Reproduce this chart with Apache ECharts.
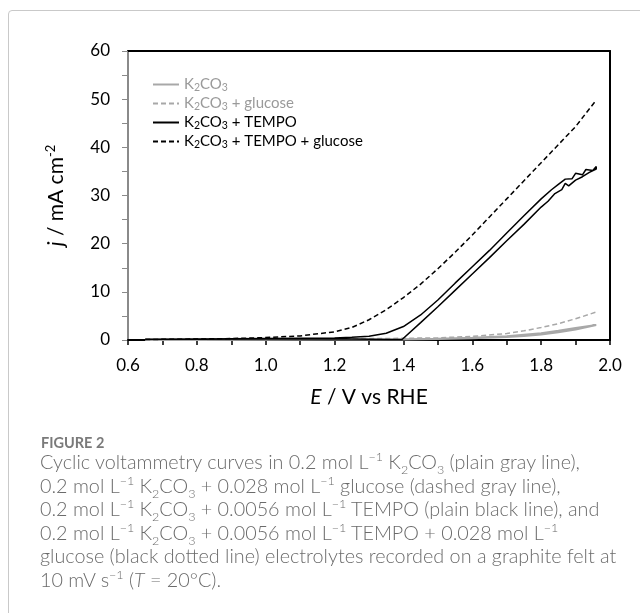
<!DOCTYPE html>
<html>
<head>
<meta charset="utf-8">
<script src="https://cdn.jsdelivr.net/npm/echarts@6/dist/echarts.min.js"></script>
<style>
  html, body { margin: 0; padding: 0; background: #fff; }
  #frame { position: absolute; left: 8px; top: 10px; width: 700px; height: 700px;
           border: 1px solid #c9c9c9; border-radius: 4px; box-sizing: border-box; }
  #chart { position: absolute; left: 0; top: 0; width: 640px; height: 613px; }
  #fig { position: absolute; left: 41px; top: 433px; font-family: Lato, "Open Sans", sans-serif;
         font-weight: 700; font-size: 14.5px; line-height: 20px; color: #7a7a7a; }
  #cap { position: absolute; left: 40px; top: 450px; width: 600px; font-family: Lato, "Open Sans", sans-serif;
         font-weight: 300; font-size: 19.8px; line-height: 23.6px; color: #6b6b6b; white-space: nowrap; }
  #cap sup, #cap sub { font-size: 12.5px; line-height: 0; }
</style>
</head>
<body>
<div id="frame"></div>
<div id="chart"></div>
<div id="fig">FIGURE 2</div>
<div id="cap">Cyclic voltammetry curves in 0.2 mol L<sup>−1</sup> K<sub>2</sub>CO<sub>3</sub> (plain gray line),<br>0.2 mol L<sup>−1</sup> K<sub>2</sub>CO<sub>3</sub> + 0.028 mol L<sup>−1</sup> glucose (dashed gray line),<br>0.2 mol L<sup>−1</sup> K<sub>2</sub>CO<sub>3</sub> + 0.0056 mol L<sup>−1</sup> TEMPO (plain black line), and<br>0.2 mol L<sup>−1</sup> K<sub>2</sub>CO<sub>3</sub> + 0.0056 mol L<sup>−1</sup> TEMPO + 0.028 mol L<sup>−1</sup><br>glucose (black dotted line) electrolytes recorded on a graphite felt at<br>10 mV s<sup>−1</sup> (<i>T</i> = 20°C).</div>
<script>
// Potential axis (V vs RHE) and current density axis (mA cm-2)
var xTicks = [0.6, 0.8, 1.0, 1.2, 1.4, 1.6, 1.8, 2.0];
var yTicks = [0, 10, 20, 30, 40, 50, 60];

var seriesNames = ['K2CO3', 'K2CO3 + glucose', 'K2CO3 + TEMPO', 'K2CO3 + TEMPO + glucose'];

// K2CO3: anodic sweep then return sweep
var carbE = [0.65, 0.8, 1.0, 1.2, 1.4, 1.5, 1.6, 1.7, 1.75, 1.8, 1.85, 1.9, 1.96,
             1.96, 1.9, 1.85, 1.8, 1.7, 1.6, 1.5, 1.4, 1.2, 1.0, 0.8, 0.65];
var carbJ = [0.05, 0.05, 0.05, 0.08, 0.12, 0.2, 0.35, 0.6, 0.85, 1.15, 1.6, 2.2, 3.1,
             3.3, 2.5, 1.9, 1.4, 0.8, 0.45, 0.25, 0.15, 0.1, 0.05, 0.02, 0.0];

// K2CO3 + glucose
var glucE = [0.65, 0.8, 1.0, 1.2, 1.3, 1.4, 1.5, 1.6, 1.7, 1.75, 1.8, 1.85, 1.9, 1.96];
var glucJ = [0.1, 0.15, 0.2, 0.25, 0.3, 0.35, 0.45, 0.75, 1.35, 1.9, 2.6, 3.4, 4.4, 5.8];

// K2CO3 + TEMPO: anodic sweep then return sweep
var tempoE = [0.65, 0.8, 1.0, 1.2, 1.3, 1.36, 1.396, 1.45, 1.5, 1.55, 1.6, 1.65, 1.7, 1.75, 1.8,
              1.82, 1.84, 1.86, 1.87, 1.88, 1.9, 1.92, 1.94, 1.96,
              1.96, 1.95, 1.93, 1.92, 1.9, 1.89, 1.87, 1.85, 1.83, 1.8, 1.75, 1.7, 1.65, 1.6,
              1.55, 1.5, 1.45, 1.4, 1.35, 1.3, 1.25, 1.2, 1.0, 0.8, 0.65];
var tempoJ = [0.15, 0.15, 0.2, 0.25, 0.15, 0.1, 0.1, 3.6, 6.9, 10.3, 13.7, 17.1, 20.6, 24.0, 27.6,
              28.8, 30.4, 31.2, 32.5, 32.0, 33.2, 33.9, 34.8, 35.5,
              36.0, 35.2, 35.4, 34.3, 34.6, 33.5, 33.4, 32.3, 31.2, 29.3, 25.8, 22.2, 18.6, 15.2,
              11.8, 8.3, 5.2, 2.8, 1.4, 0.8, 0.55, 0.4, 0.3, 0.2, 0.15];

// K2CO3 + TEMPO + glucose
var tgE = [0.65, 0.8, 0.9, 1.0, 1.1, 1.2, 1.25, 1.3, 1.35, 1.4, 1.45, 1.5, 1.55, 1.6, 1.7, 1.8, 1.9, 1.96];
var tgJ = [0.1, 0.2, 0.3, 0.5, 0.85, 1.7, 2.6, 4.2, 6.3, 8.8, 11.6, 14.8, 18.2, 21.8, 29.3, 36.8, 44.3, 49.8];

function pairs(xs, ys) {
  return xs.map(function (x, i) { return [x, ys[i]]; });
}

var FONT = 'Lato, "Open Sans", sans-serif';
var GRAY = '#a8a8a8';

var chart = echarts.init(document.getElementById('chart'), null, { renderer: 'canvas' });

var option = {
  animation: false,
  grid: { left: 128, right: 30, top: 51, bottom: 273, containLabel: false },
  legend: {
    orient: 'vertical',
    left: 147,
    top: 72,
    itemWidth: 26,
    itemHeight: 12,
    itemGap: 3,
    itemStyle: { opacity: 0 },
    data: [
      { name: seriesNames[0], textStyle: { color: '#9a9a9a' } },
      { name: seriesNames[1], textStyle: { color: '#9a9a9a' } },
      { name: seriesNames[2], textStyle: { color: '#000' } },
      { name: seriesNames[3], textStyle: { color: '#000' } }
    ],
    formatter: function (name) {
      var rest = name.replace('K2CO3', '');
      return '{t|K}{s|2}{t|CO}{s|3}' + (rest ? '{t|' + rest + '}' : '');
    },
    textStyle: {
      fontFamily: FONT,
      fontSize: 15,
      rich: {
        t: { fontFamily: FONT, fontSize: 15, lineHeight: 17 },
        s: { fontFamily: FONT, fontSize: 10.5, lineHeight: 17, verticalAlign: 'bottom', padding: [4, 0, 0, 0] }
      }
    }
  },
  xAxis: [
    {
      type: 'value', position: 'bottom',
      min: xTicks[0], max: xTicks[xTicks.length - 1], interval: 0.2,
      axisLine: { onZero: false, lineStyle: { color: '#000', width: 2 } },
      axisTick: { length: 5, lineStyle: { color: '#000', width: 1.5 } },
      minorTick: { show: true, splitNumber: 2, length: 5, lineStyle: { color: '#000', width: 1.5 } },
      splitLine: { show: false },
      axisLabel: { formatter: function (v) { return v.toFixed(1); }, fontFamily: FONT, fontSize: 17, color: '#000', margin: 17 },
      name: '{i|E} / V vs RHE',
      nameLocation: 'middle',
      nameGap: 47,
      nameTextStyle: {
        fontFamily: FONT, fontSize: 21, color: '#000',
        rich: { i: { fontFamily: FONT, fontSize: 21, fontStyle: 'italic', color: '#000' } }
      }
    },
    {
      type: 'value', position: 'top',
      min: xTicks[0], max: xTicks[xTicks.length - 1],
      axisLine: { onZero: false, lineStyle: { color: '#000', width: 2 } },
      axisTick: { show: false }, axisLabel: { show: false }, splitLine: { show: false }
    }
  ],
  yAxis: [
    {
      type: 'value', position: 'left',
      min: yTicks[0], max: yTicks[yTicks.length - 1], interval: 10,
      axisLine: { onZero: false, lineStyle: { color: '#8a8a8a', width: 2 } },
      axisTick: { length: 6, lineStyle: { color: '#8a8a8a', width: 1 } },
      minorTick: { show: true, splitNumber: 2, length: 6, lineStyle: { color: '#8a8a8a', width: 1 } },
      splitLine: { show: false },
      axisLabel: { fontFamily: FONT, fontSize: 17, color: '#000', margin: 18 },
      name: '{i|j} / mA cm{p|-2}',
      nameLocation: 'middle',
      nameGap: 60,
      nameTextStyle: {
        fontFamily: FONT, fontSize: 21, color: '#000',
        rich: {
          i: { fontFamily: FONT, fontSize: 21, fontStyle: 'italic', color: '#000', lineHeight: 24 },
          p: { fontFamily: FONT, fontSize: 13, color: '#000', verticalAlign: 'top', lineHeight: 24, padding: [0, 0, 9, 0] }
        }
      }
    },
    {
      type: 'value', position: 'right',
      min: yTicks[0], max: yTicks[yTicks.length - 1],
      axisLine: { onZero: false, lineStyle: { color: '#000', width: 2 } },
      axisTick: { show: false }, axisLabel: { show: false }, splitLine: { show: false }
    }
  ],
  series: [
    {
      name: seriesNames[0], type: 'line', symbol: 'none', xAxisIndex: 0, yAxisIndex: 0,
      lineStyle: { color: GRAY, width: 2 }, itemStyle: { color: GRAY },
      data: pairs(carbE, carbJ)
    },
    {
      name: seriesNames[1], type: 'line', symbol: 'none', xAxisIndex: 0, yAxisIndex: 0,
      lineStyle: { color: GRAY, width: 1.5, type: [5, 3] }, itemStyle: { color: GRAY },
      data: pairs(glucE, glucJ)
    },
    {
      name: seriesNames[2], type: 'line', symbol: 'none', xAxisIndex: 0, yAxisIndex: 0,
      lineStyle: { color: '#000', width: 1.5 }, itemStyle: { color: '#000' },
      data: pairs(tempoE, tempoJ)
    },
    {
      name: seriesNames[3], type: 'line', symbol: 'none', xAxisIndex: 0, yAxisIndex: 0,
      lineStyle: { color: '#000', width: 1.5, type: [5, 3] }, itemStyle: { color: '#000' },
      data: pairs(tgE, tgJ)
    }
  ]
};

chart.setOption(option);
</script>
</body>
</html>
